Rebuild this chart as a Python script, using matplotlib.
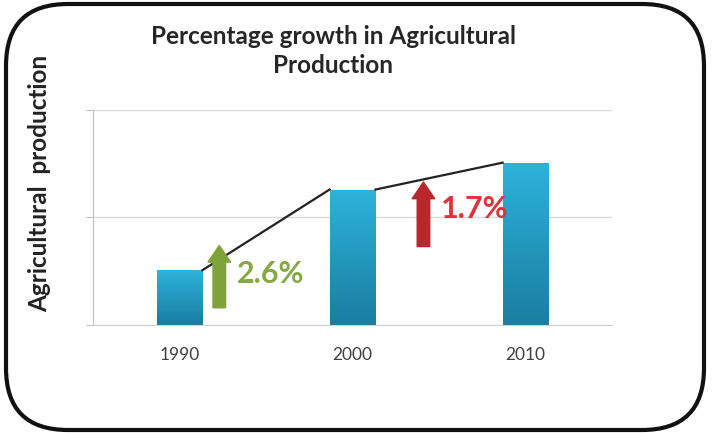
import numpy as np
import matplotlib
matplotlib.use("Agg")
import matplotlib.pyplot as plt
from matplotlib.patches import FancyBboxPatch
from matplotlib.colors import LinearSegmentedColormap

# Data
years = ["1990", "2000", "2010"]
production = [0.51, 1.26, 1.51]
growth_labels = ["2.6%", "1.7%"]
growth_colors = ["#86a843", "#e2313b"]
arrow_colors = ["#7fa23a", "#b8262e"]

fig = plt.figure(figsize=(7.12, 4.33), dpi=100)
ax = fig.add_axes([0.1306, 0.2494, 0.729, 0.4966])

x = np.arange(len(years))
w = 0.265
bars = ax.bar(x, production, width=w, color="#23a2cc", zorder=2)

# vertical gradient on the bars
cmap = LinearSegmentedColormap.from_list("bar", ["#1b7da0", "#2db3dc"])
grad = np.linspace(0, 1, 256).reshape(-1, 1)
for b in bars:
    bx, by = b.get_x(), b.get_y()
    im = ax.imshow(grad, cmap=cmap, origin="lower", aspect="auto",
                   extent=[bx, bx + b.get_width(), by, by + b.get_height()], zorder=2)
    im.set_clip_path(b)

# line joining the bar tops
for i in range(len(years) - 1):
    ax.plot([x[i] + w / 2, x[i + 1] - w / 2], [production[i], production[i + 1]],
            color="#222222", lw=1.6, zorder=3)

# growth arrows
arrow_x = [0.23, 1.41]
arrow_y0 = [0.16, 0.73]
arrow_y1 = [0.74, 1.33]
text_y = [0.47, 1.08]
for i in range(2):
    ax.annotate("", xy=(arrow_x[i], arrow_y1[i]), xytext=(arrow_x[i], arrow_y0[i]),
                arrowprops=dict(arrowstyle="simple,head_width=1.35,head_length=1.0,tail_width=0.75",
                                color=arrow_colors[i], mutation_scale=12, shrinkA=0, shrinkB=0),
                zorder=4)
    ax.text(arrow_x[i] + 0.1, text_y[i], growth_labels[i],
            color=growth_colors[i], fontsize=22, fontfamily="Lato", fontweight="bold",
            va="center", ha="left", zorder=5)

ax.set_xlim(-0.5, 2.5)
ax.set_ylim(0, 2)
ax.set_yticks([0, 1, 2])
ax.set_yticklabels([])
ax.set_xticks(x)
ax.set_xticklabels(years, fontsize=12.5, fontfamily="Lato", color="#404040")
ax.tick_params(axis="x", length=0, pad=16)
ax.tick_params(axis="y", length=5, color="#bfbfbf")
ax.grid(axis="y", color="#d9d9d9", lw=1, zorder=0)
for s in ["top", "right"]:
    ax.spines[s].set_visible(False)
ax.spines["left"].set_color("#bfbfbf")
ax.spines["bottom"].set_color("#d0d0d0")

fig.text(0.468, 0.882, "Percentage growth in Agricultural\nProduction", ha="center", va="center",
         fontsize=17.5, fontfamily="Lato", fontweight="bold", color="#262626", linespacing=1.35)
fig.text(0.056, 0.577, "Agricultural  production", rotation=90, ha="center", va="center",
         fontsize=17.5, fontfamily="Lato", fontweight="bold", color="#222222")

# rounded frame
frame = FancyBboxPatch((6, 3), 698, 426, boxstyle="round,pad=0,rounding_size=62",
                       transform=None, fill=False, ec="#111111", lw=3)
fig.patches.append(frame)

fig.savefig("out.png", dpi=100)
